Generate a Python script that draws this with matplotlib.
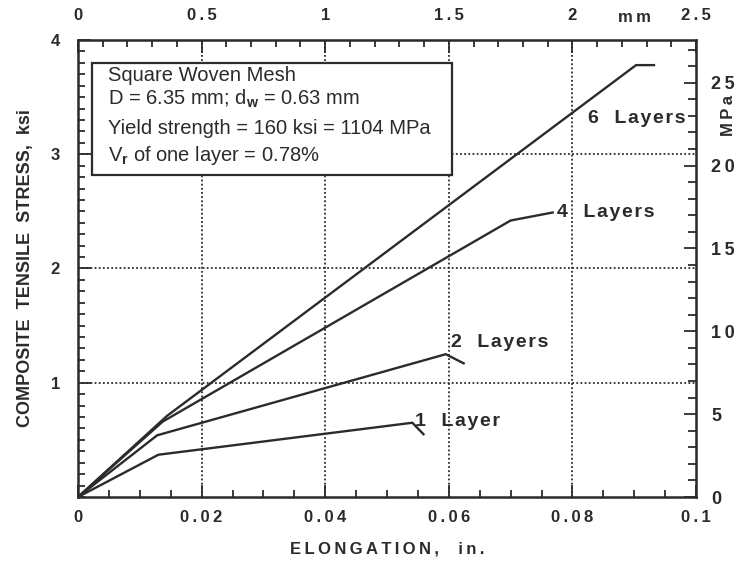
import matplotlib
matplotlib.use('Agg')
import matplotlib.pyplot as plt
from matplotlib.patches import Rectangle
from matplotlib.ticker import MultipleLocator

plt.rcParams['font.family'] = ['Liberation Sans', 'DejaVu Sans']
plt.rcParams['mathtext.fontset'] = 'custom'
plt.rcParams['mathtext.rm'] = 'Liberation Sans'
plt.rcParams['mathtext.bf'] = 'Liberation Sans:bold'

#----------------------------
#          DATA
#----------------------------
# elongation (in.) / composite stress (ksi) for each layup
elong_1 = [0.0, 0.0130, 0.0541, 0.0559]
stress_1 = [0.0, 0.37, 0.65, 0.55]
elong_2 = [0.0, 0.0128, 0.0595, 0.0624]
stress_2 = [0.0, 0.54, 1.25, 1.17]
elong_4 = [0.0, 0.0137, 0.0700, 0.0768]
stress_4 = [0.0, 0.66, 2.42, 2.49]
elong_6 = [0.0, 0.0144, 0.0903, 0.0932]
stress_6 = [0.0, 0.71, 3.78, 3.78]

curve_labels = ['1  Layer', '2  Layers', '4  Layers', '6  Layers']
label_pos = [(0.0545, 0.665), (0.0603, 1.35), (0.0775, 2.49), (0.0825, 3.31)]

box_lines = ['Square Woven Mesh',
             r'D = 6.35 mm; d$_{\mathbf{w}}$ = 0.63 mm',
             'Yield strength = 160 ksi = 1104 MPa',
             r'V$_{\mathbf{r}}$ of one layer = 0.78%']

x_ticks = [0, 0.02, 0.04, 0.06, 0.08, 0.1]
x_ticklabels = ['0', '0.02', '0.04', '0.06', '0.08', '0.1']
mm_ticks = [0, 0.5, 1, 1.5, 2, 2.5]
mm_ticklabels = ['0', '0.5', '1', '1.5', '2', '2.5']
ksi_ticks = [1, 2, 3, 4]
mpa_ticks = [0, 5, 10, 15, 20, 25]

in_to_mm = 25.0
ksi_to_mpa = 6.895
ink = '#2b2b2b'


def spaced(s, gap='\u2009'):
    # loose letter spacing, like the old typeset labels
    return gap.join(s)


def style_labels(labels, size=12):
    for lab in labels:
        lab.set_fontweight('bold')
        lab.set_color(ink)
        lab.set_fontsize(size)


#----------------------------
#          PLOT
#----------------------------
fig = plt.figure(figsize=(7.48, 5.63), dpi=100)
ax = fig.add_axes([0.1043, 0.1172, 0.8262, 0.8118])

for xs, ys in [(elong_1, stress_1), (elong_2, stress_2),
               (elong_4, stress_4), (elong_6, stress_6)]:
    ax.plot(xs, ys, color=ink, lw=1.7, solid_joinstyle='miter', zorder=4)

for txt, (lx, ly) in zip(curve_labels, label_pos):
    ax.text(lx, ly, spaced(txt, '\u200a'), fontsize=14, fontweight='bold', color=ink,
            ha='left', va='center', zorder=5)

ax.set_xlim(0, 0.1)
ax.set_ylim(0, 4)

# dotted grid
for gx in x_ticks[1:-1]:
    ax.axvline(gx, color=ink, lw=1.3, ls=(0, (1, 1.3)), zorder=1)
for gy in ksi_ticks[:-1]:
    ax.axhline(gy, color=ink, lw=1.3, ls=(0, (1, 1.3)), zorder=1)

# info box
ax.add_patch(Rectangle((0.0227, 0.705), 0.5825, 0.245, transform=ax.transAxes,
                       facecolor='white', edgecolor=ink, lw=1.6, zorder=3))
for k, line in enumerate(box_lines):
    yy = [0.923, 0.872, 0.807, 0.748][k]
    ax.text(0.049, yy, line, transform=ax.transAxes, fontsize=14.5,
            color=ink, ha='left', va='center', zorder=4)

ax.set_xticks(x_ticks)
ax.set_xticklabels([spaced(t) for t in x_ticklabels])
ax.set_yticks(ksi_ticks)
ax.xaxis.set_minor_locator(MultipleLocator(0.005))
ax.yaxis.set_minor_locator(MultipleLocator(0.1))
ax.tick_params(which='both', direction='in', color=ink, width=1.3)
ax.tick_params(which='major', length=9)
ax.tick_params(which='minor', length=5)
ax.tick_params(axis='x', which='major', pad=9)
ax.tick_params(axis='y', which='major', pad=13)
style_labels(ax.get_xticklabels() + ax.get_yticklabels())
for sp in ax.spines.values():
    sp.set_linewidth(1.8)
    sp.set_color(ink)

ax.set_xlabel(spaced('ELONGATION,  in.'), fontsize=12, fontweight='bold', color=ink, labelpad=12)
ax.set_ylabel('COMPOSITE  TENSILE  STRESS,  ksi', fontsize=13, fontweight='bold',
              color=ink, labelpad=12)

# top axis in mm
top = ax.secondary_xaxis('top', functions=(lambda x: x * in_to_mm, lambda m: m / in_to_mm))
top.set_xticks(mm_ticks)
top.set_xticklabels([spaced(t) for t in mm_ticklabels])
top.xaxis.set_minor_locator(MultipleLocator(0.1))
top.tick_params(which='both', direction='in', color=ink, width=1.3)
top.tick_params(which='major', length=9, pad=12)
top.tick_params(which='minor', length=5)
style_labels(top.get_xticklabels())
ax.text(0.090, 1.039, spaced('mm'), transform=ax.get_xaxis_transform(), fontsize=12,
        fontweight='bold', color=ink, ha='center', va='baseline')

# right axis in MPa
right = ax.secondary_yaxis('right', functions=(lambda k: k * ksi_to_mpa, lambda m: m / ksi_to_mpa))
right.set_yticks(mpa_ticks)
right.set_yticklabels([spaced(str(t)) for t in mpa_ticks])
right.yaxis.set_minor_locator(MultipleLocator(1))
right.tick_params(which='both', direction='in', color=ink, width=1.3)
right.tick_params(which='major', length=9, pad=11)
right.tick_params(which='minor', length=6)
style_labels(right.get_yticklabels(), size=13)
ax.text(1.053, 0.835, spaced('MPa'), transform=ax.transAxes, fontsize=12, fontweight='bold',
        color=ink, rotation=90, ha='center', va='center')

plt.savefig('out.png', dpi=100)
